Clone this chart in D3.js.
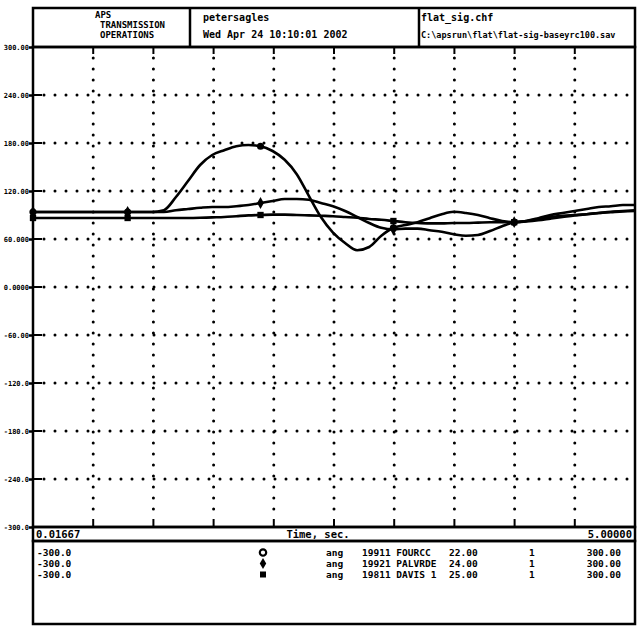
<!DOCTYPE html>
<html>
<head>
<meta charset="utf-8">
<script src="https://cdn.jsdelivr.net/npm/d3@7"></script>
<style>
  html, body { margin: 0; padding: 0; background: #fff; }
  svg { display: block; }
  text { font-family: "DejaVu Sans Mono", "Liberation Mono", monospace; font-weight: bold; fill: #000; }
</style>
</head>
<body>
<svg id="chart" width="637" height="627"></svg>
<script>
// ---------------- data ----------------
const times = [0.01667, 0.5, 0.8, 1.0, 1.1, 1.2, 1.3, 1.4, 1.5, 1.6, 1.7, 1.8, 1.9, 2.0,
  2.1, 2.2, 2.3, 2.4, 2.5, 2.6, 2.7, 2.8, 2.9, 3.0, 3.1, 3.2, 3.3, 3.4, 3.5, 3.6,
  3.7, 3.8, 3.9, 4.0, 4.1, 4.2, 4.3, 4.4, 4.5, 4.6, 4.7, 4.8, 4.9, 5.0];

const angFOURCC = [93.75, 93.75, 93.75, 93.75, 96, 112.5, 132.5, 152.5, 165, 171, 176, 177.5, 176, 170,
  159, 141, 114, 87.5, 68, 55, 46, 50, 64, 74, 77.5, 81, 86, 91, 94, 92.5,
  90, 86, 82.5, 81, 82.5, 86, 90, 92.5, 95, 97.5, 100, 101, 102.5, 102.5];

const angPALVRDE = [93.75, 93.75, 93.75, 93.75, 93.75, 96, 97.5, 99, 100, 100, 101, 102.5, 105, 107.5,
  110, 110, 109, 105, 101, 95, 87.5, 80, 74, 72, 73, 73, 71, 69, 66, 64,
  65, 70, 76, 81, 82.5, 85, 87.5, 89, 90, 91, 92.5, 94, 95, 96];

const angDAVIS = [86.25, 86.25, 86.25, 86.25, 86.25, 86.25, 86.25, 86.5, 87, 87.5, 88.5, 89.5, 90, 90.5,
  90.5, 90, 89.5, 89, 88.5, 87.5, 86.5, 85, 84, 82.5, 81, 80, 79.5, 79.5, 80, 80,
  80.5, 81, 81, 81, 82, 83.5, 85.5, 87.5, 89.5, 91, 92.5, 93.5, 94.5, 95];

const markerTimes = [0.01667, 0.8, 1.9, 3.0, 4.0];

const yTickValues = [-300, -240, -180, -120, -60, 0, 60, 120, 180, 240, 300];
const yTickLabels = ["-300.0", "-240.0", "-180.0", "-120.0", "-60.00", "0.0000", "60.000", "120.00", "180.00", "240.00", "300.00"];

const xMin = 0.01667, xMax = 5.0;
const xMinLabel = "0.01667", xMaxLabel = "5.00000", xTitle = "Time, sec.";

const headerBox1 = ["APS", "TRANSMISSION", "OPERATIONS"];
const headerBox2 = ["petersagles", "Wed Apr 24 10:10:01 2002"];
const headerBox3 = ["flat_sig.chf", "C:\\apsrun\\flat\\flat-sig-baseyrc100.sav"];

const seriesNames = ["19911 FOURCC", "19921 PALVRDE", "19811 DAVIS 1"];
const seriesKV = ["22.00", "24.00", "25.00"];
const seriesId = ["1", "1", "1"];
const seriesMin = ["-300.0", "-300.0", "-300.0"];
const seriesMax = ["300.00", "300.00", "300.00"];
const seriesQty = ["ang", "ang", "ang"];
const seriesValues = [angFOURCC, angPALVRDE, angDAVIS];

// ---------------- layout ----------------
const L = 33, R = 635, T = 47, B = 527;
const svg = d3.select("#chart");
svg.append("rect").attr("width", 637).attr("height", 627).attr("fill", "#fff");

const x = d3.scaleLinear().domain([xMin, xMax]).range([L, R]);
const y = d3.scaleLinear().domain([-300, 300]).range([B, T]);
const xGrid = d3.range(11).map(k => xMin + k * (xMax - xMin) / 10);

// grid (dotted)
const grid = svg.append("g").attr("stroke", "#000").attr("stroke-width", 3)
  .attr("stroke-linecap", "round").attr("stroke-dasharray", "0,11");
grid.selectAll("line.h").data(yTickValues.slice(1, -1)).join("line").attr("class", "h")
  .attr("x1", L + 11).attr("x2", R).attr("y1", d => y(d)).attr("y2", d => y(d));
grid.selectAll("line.v").data(xGrid.slice(1, -1)).join("line").attr("class", "v")
  .attr("x1", d => x(d)).attr("x2", d => x(d)).attr("y1", T + 11).attr("y2", B - 8);

// inner solid ticks
const ticks = svg.append("g").attr("stroke", "#000").attr("stroke-width", 2);
ticks.selectAll("line.l").data(yTickValues).join("line").attr("class", "l")
  .attr("x1", L).attr("x2", L + 9).attr("y1", d => y(d)).attr("y2", d => y(d));
ticks.selectAll("line.b").data(xGrid.slice(1, -1)).join("line").attr("class", "b")
  .attr("x1", d => x(d)).attr("x2", d => x(d)).attr("y1", B).attr("y2", B - 8);
ticks.selectAll("line.t").data(xGrid.slice(1, -1)).join("line").attr("class", "t")
  .attr("x1", d => x(d)).attr("x2", d => x(d)).attr("y1", T).attr("y2", T + 7);

// y axis
const yAxis = d3.axisLeft(y).tickValues(yTickValues)
  .tickFormat((d, i) => yTickLabels[i]).tickSize(4).tickPadding(0);
const ya = svg.append("g").attr("transform", `translate(${L},0)`).call(yAxis);
ya.select(".domain").remove();
ya.selectAll(".tick line").attr("stroke", "#000").attr("stroke-width", 2.5);
ya.selectAll(".tick text").style("font-size", "7px").style("font-family", "DejaVu Sans Mono").style("font-weight", "bold");

// frames
const frame = svg.append("g").attr("fill", "none").attr("stroke", "#000").attr("stroke-width", 2.5);
frame.append("rect").attr("x", L).attr("y", 8).attr("width", R - L).attr("height", T - 8);
frame.append("line").attr("x1", 190).attr("x2", 190).attr("y1", 8).attr("y2", T);
frame.append("line").attr("x1", 419).attr("x2", 419).attr("y1", 8).attr("y2", T);
frame.append("rect").attr("x", L).attr("y", T).attr("width", R - L).attr("height", B - T);
frame.append("rect").attr("x", L).attr("y", B).attr("width", R - L).attr("height", 14);
frame.append("rect").attr("x", L).attr("y", B + 14).attr("width", R - L).attr("height", 83);

// header text
const h1 = svg.append("g").style("font-size", "9px");
[[95, 18], [100, 28], [100, 38]].forEach((p, i) =>
  h1.append("text").attr("x", p[0]).attr("y", p[1]).text(headerBox1[i]));
const h2 = svg.append("g").style("font-size", "10px");
h2.append("text").attr("x", 203).attr("y", 21).text(headerBox2[0]);
h2.append("text").attr("x", 203).attr("y", 38).text(headerBox2[1]);
h2.append("text").attr("x", 421).attr("y", 21).text(headerBox3[0]);
h2.append("text").attr("x", 421).attr("y", 38).style("font-size", "8.5px").text(headerBox3[1]);

// x strip text
const xs = svg.append("g").style("font-size", "10.5px");
xs.append("text").attr("x", L + 3).attr("y", B + 11).text(xMinLabel);
xs.append("text").attr("x", 318).attr("y", B + 11).attr("text-anchor", "middle").text(xTitle);
xs.append("text").attr("x", R - 3).attr("y", B + 11).attr("text-anchor", "end").text(xMaxLabel);

// curves
const line = d3.line().x(d => x(d[0])).y(d => y(d[1])).curve(d3.curveMonotoneX);
const symbols = [d3.symbolCircle, d3.symbolDiamond, d3.symbolSquare];
seriesValues.forEach((vals, si) => {
  const pts = times.map((t, i) => [t, vals[i]]);
  svg.append("path").datum(pts).attr("d", line)
    .attr("fill", "none").attr("stroke", "#000").attr("stroke-width", 2.6)
    .attr("stroke-linejoin", "round");
  const mk = pts.filter(p => markerTimes.includes(p[0]));
  svg.append("g").selectAll("path").data(mk).join("path")
    .attr("transform", d => `translate(${x(d[0])},${y(d[1])})`)
    .attr("d", d3.symbol().type(symbols[si]).size(40))
    .attr("fill", "#000");
});

// legend rows
const lg = svg.append("g").style("font-size", "9.5px");
const rowY = [556, 567, 578];
seriesNames.forEach((name, i) => {
  const yy = rowY[i];
  lg.append("text").attr("x", 37).attr("y", yy).text(seriesMin[i]);
  const sym = lg.append("path").attr("transform", `translate(263,${yy - 3.5})`)
    .attr("d", d3.symbol().type(symbols[i]).size(i === 0 ? 32 : 36));
  if (i === 0) sym.attr("fill", "#fff").attr("stroke", "#000").attr("stroke-width", 2.2);
  else sym.attr("fill", "#000");
  lg.append("text").attr("x", 326).attr("y", yy).text(seriesQty[i]);
  lg.append("text").attr("x", 362).attr("y", yy).text(name);
  lg.append("text").attr("x", 449).attr("y", yy).text(seriesKV[i]);
  lg.append("text").attr("x", 529).attr("y", yy).text(seriesId[i]);
  lg.append("text").attr("x", 621).attr("y", yy).attr("text-anchor", "end").text(seriesMax[i]);
});
</script>
</body>
</html>
